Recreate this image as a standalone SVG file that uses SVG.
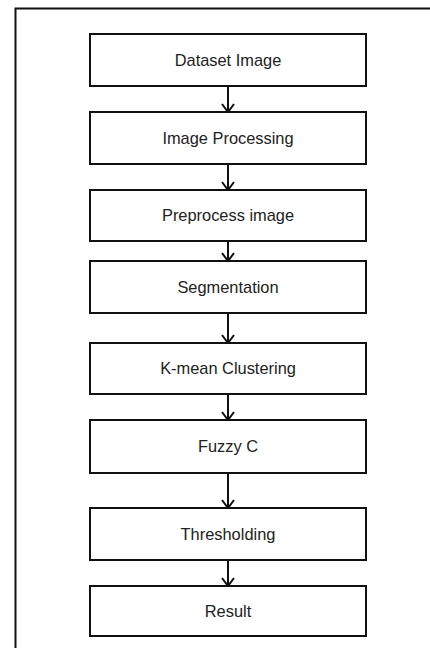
<svg xmlns="http://www.w3.org/2000/svg" width="430" height="648" viewBox="0 0 430 648">
<defs>
<style>
.box{fill:#fff;stroke:#111;stroke-width:2}
.lbl{font-family:"Liberation Sans",Arial,sans-serif;font-size:16.4px;fill:#222;text-anchor:middle}
.con{stroke:#111;stroke-width:2;fill:none}
</style>
<marker id="ah" markerWidth="12" markerHeight="14" refX="10" refY="7" orient="auto" markerUnits="userSpaceOnUse" viewBox="0 0 12 14">
<path d="M2,1 L10,7 L2,13" fill="none" stroke="#111" stroke-width="2"/>
</marker>
</defs>
<rect x="0" y="0" width="430" height="648" fill="#fff"/>
<path d="M15.5,660 V8.5 H440" fill="none" stroke="#111" stroke-width="2"/>
<g id="connectors">
<line class="con" x1="228" y1="86" x2="228" y2="112" marker-end="url(#ah)"/>
<line class="con" x1="228" y1="164" x2="228" y2="190" marker-end="url(#ah)"/>
<line class="con" x1="228" y1="241" x2="228" y2="261" marker-end="url(#ah)"/>
<line class="con" x1="228" y1="313" x2="228" y2="343" marker-end="url(#ah)"/>
<line class="con" x1="228" y1="394" x2="228" y2="420" marker-end="url(#ah)"/>
<line class="con" x1="228" y1="473" x2="228" y2="508" marker-end="url(#ah)"/>
<line class="con" x1="228" y1="560" x2="228" y2="586" marker-end="url(#ah)"/>
</g>
<g id="n1"><rect class="box" x="90" y="34" width="276" height="52"/><text class="lbl" x="228" y="65.5">Dataset Image</text></g>
<g id="n2"><rect class="box" x="90" y="112" width="276" height="52"/><text class="lbl" x="228" y="143.5">Image Processing</text></g>
<g id="n3"><rect class="box" x="90" y="190" width="276" height="51"/><text class="lbl" x="228" y="221">Preprocess image</text></g>
<g id="n4"><rect class="box" x="90" y="261" width="276" height="52"/><text class="lbl" x="228" y="292.5">Segmentation</text></g>
<g id="n5"><rect class="box" x="90" y="343" width="276" height="51"/><text class="lbl" x="228" y="374">K-mean Clustering</text></g>
<g id="n6"><rect class="box" x="90" y="420" width="276" height="53"/><text class="lbl" x="228" y="452">Fuzzy C</text></g>
<g id="n7"><rect class="box" x="90" y="508" width="276" height="52"/><text class="lbl" x="228" y="539.5">Thresholding</text></g>
<g id="n8"><rect class="box" x="90" y="586" width="276" height="50"/><text class="lbl" x="228" y="616.5">Result</text></g>
</svg>
